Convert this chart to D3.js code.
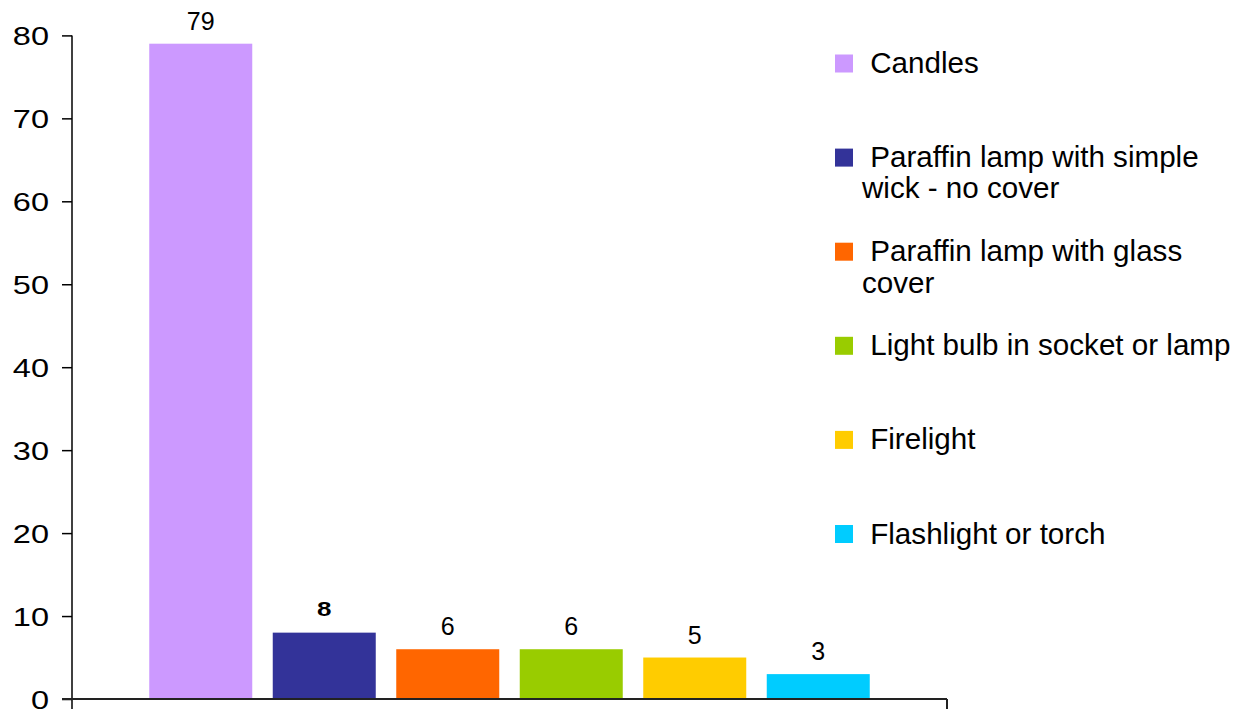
<!DOCTYPE html>
<html>
<head>
<meta charset="utf-8">
<script src="https://cdn.jsdelivr.net/npm/d3@7"></script>
<style>
  html, body { margin: 0; padding: 0; background: #fff; }
  svg { display: block; font-family: "Liberation Sans", Arial, sans-serif; }
</style>
</head>
<body>
<svg id="chart" width="1237" height="709"></svg>
<script>
const categories = [
  "Candles",
  "Paraffin lamp with simple wick - no cover",
  "Paraffin lamp with glass cover",
  "Light bulb in socket or lamp",
  "Firelight",
  "Flashlight or torch"
];
const values = [79, 8, 6, 6, 5, 3];
const colors = ["#CC99FF", "#333399", "#FF6600", "#99CC00", "#FFCC00", "#00CCFF"];
const yTicks = [0, 10, 20, 30, 40, 50, 60, 70, 80];

const svg = d3.select("#chart");

const x = d3.scaleBand().domain(categories).range([72, 947])
  .paddingInner(0.166).paddingOuter(0.6255).align(0.5);
const y = d3.scaleLinear().domain([0, 80]).range([699, 35.4]);

// bars
svg.append("g").selectAll("rect").data(categories).join("rect")
  .attr("x", d => x(d))
  .attr("width", x.bandwidth())
  .attr("y", (d, i) => y(values[i]))
  .attr("height", (d, i) => y(0) - y(values[i]))
  .attr("fill", (d, i) => colors[i]);

// y axis
const yAxis = d3.axisLeft(y).tickValues(yTicks).tickSize(10).tickSizeOuter(0).tickFormat(d3.format("d"));
const gy = svg.append("g").attr("transform", "translate(72,0)").call(yAxis);
gy.select(".domain").attr("stroke", "#000").attr("stroke-width", 1.5)
  .attr("d", `M0,${y(80)}V709`);
gy.selectAll(".tick line").attr("stroke", "#000").attr("stroke-width", 1.5);
gy.selectAll(".tick text")
  .attr("x", null).attr("dy", null)
  .attr("fill", "#000")
  .style("font-size", "25px")
  .attr("font-family", null)
  .attr("transform", "translate(-23,9) scale(1.3,1)")
  .attr("text-anchor", "end");

// x axis
const gx = svg.append("g");
gx.append("line").attr("x1", 62).attr("x2", 947).attr("y1", y(0)).attr("y2", y(0))
  .attr("stroke", "#222").attr("stroke-width", 2);
gx.append("line").attr("x1", 947).attr("x2", 947).attr("y1", y(0)).attr("y2", 709)
  .attr("stroke", "#222").attr("stroke-width", 2);

// data labels
svg.append("g").selectAll("text").data(categories).join("text")
  .attr("transform", (d, i) => {
    const cx = x(d) + x.bandwidth() / 2;
    return i === 1
      ? `translate(${cx},${y(values[i]) - 17}) scale(1.3,1)`
      : `translate(${cx},${y(values[i]) - 14})`;
  })
  .attr("text-anchor", "middle")
  .style("font-size", (d, i) => i === 1 ? "20px" : "25px")
  .style("font-weight", (d, i) => i === 1 ? "bold" : "normal")
  .attr("fill", "#000")
  .text((d, i) => d3.format("d")(values[i]));

// legend
const legendTop = 63.5, legendStep = 94.1, maxW = 372;
const lg = svg.append("g");
categories.forEach((name, i) => {
  const cy = legendTop + legendStep * i;
  lg.append("rect").attr("x", 835).attr("y", cy - 9).attr("width", 18).attr("height", 18)
    .attr("fill", colors[i]);
  const t = lg.append("text").attr("x", 862).attr("y", cy + 9.5)
    .style("font-size", "29.6px").attr("fill", "#000").attr("xml:space", "preserve");
  // wrap
  const words = name.split(" ");
  let lines = [], cur = " " + words[0];
  const probe = lg.append("text").style("font-size", "29.6px").attr("xml:space", "preserve");
  for (let k = 1; k < words.length; k++) {
    const test = cur + " " + words[k];
    probe.text(test);
    if (probe.node().getComputedTextLength() > maxW) { lines.push(cur); cur = words[k]; }
    else cur = test;
  }
  lines.push(cur);
  probe.remove();
  lines.forEach((ln, j) => {
    t.append("tspan").attr("x", 862).attr("dy", j === 0 ? 0 : 31.3).text(ln);
  });
});
</script>
</body>
</html>
